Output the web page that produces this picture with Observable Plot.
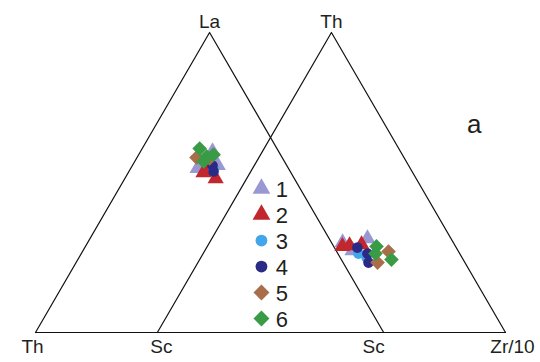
<!DOCTYPE html>
<html><head><meta charset="utf-8">
<script src="https://cdn.jsdelivr.net/npm/d3@7"></script>
<script src="https://cdn.jsdelivr.net/npm/@observablehq/plot@0.6"></script>
<style>body{margin:0;background:#fff;} svg{display:block;}</style>
</head><body><div id="chart"></div>
<script>
// Series definitions
const groups = ["1","2","3","4","5","6"];
const groupColors = ["#9a98d2","#c1272d","#43a6ea","#2b2a86","#a86e4a","#3a9b46"];
const groupSymbols = ["triangle","triangle","circle","circle","diamond2","diamond2"];

// Left diagram: Th – La – Sc (percent)
const leftGroup = ["1","1","1","2","2","2","3","4","4","5","5","6","6","6","6"];
const leftTh    = [19.0,26.1,19.8,25.1,22.6,23.1,21.5,21.3,22.0,24.6,21.0,22.2,23.2,19.2,21.5];
const leftLa    = [60.3,54.7,55.7,53.3,51.3,55.0,54.7,55.7,53.7,58.3,58.0,61.3,57.0,59.3,58.7];
const leftSc    = [20.7,19.2,24.5,21.6,26.1,21.9,23.8,23.0,24.3,17.1,21.0,16.5,19.8,21.5,19.8];

// Right diagram: Sc – Th – Zr/10 (percent)
const rightGroup = ["1","1","1","2","2","2","3","3","4","4","4","5","5","6","6","6"];
const rightSc    = [31.8,24.0,30.3,32.5,30.3,26.7,29.1,27.4,28.4,26.5,27.7,20.1,25.1,22.7,24.2,20.6];
const rightTh    = [30.0,31.3,27.3,28.7,29.0,29.3,26.3,25.0,28.3,26.3,23.3,27.0,23.3,28.7,26.3,24.3];
const rightZr    = [38.2,44.7,42.4,38.8,40.7,44.0,44.6,47.6,43.3,47.2,49.0,52.9,51.6,48.6,49.5,55.1];

const leftVertexLabels  = ["Th","La","Sc"];
const rightVertexLabels = ["Sc","Th","Zr/10"];
const panelLabel = "a";

// ---- geometry helpers ----
const H = Math.sqrt(3) / 2;
const SHIFT = 0.35; // horizontal shift of the right triangle (layout)
const projL = (th, la, sc) => ({x: (la * 0.5 + sc) / 100, y: la * H / 100});
const projR = (sc, th, zr) => ({x: SHIFT + (th * 0.5 + zr) / 100, y: th * H / 100});

const leftPts = leftGroup.map((g, i) => ({g, ...projL(leftTh[i], leftLa[i], leftSc[i])}));
const rightPts = rightGroup.map((g, i) => ({g, ...projR(rightSc[i], rightTh[i], rightZr[i])}));
const pts = [...leftPts, ...rightPts];

const leftTri = [projL(100,0,0), projL(0,100,0), projL(0,0,100), projL(100,0,0)];
const rightTri = [projR(100,0,0), projR(0,100,0), projR(0,0,100), projR(100,0,0)];

const col = g => groupColors[groups.indexOf(g)];
const sym = g => groupSymbols[groups.indexOf(g)];
const rad = g => sym(g) === "diamond2" ? 6.6 : (sym(g) === "circle" ? 5.3 : 6);

// legend layout (data units)
const legX = 0.649, legTX = 0.69, legY0 = 0.4157, legStep = 0.0751;
const legend = groups.map((g, i) => ({g, x: legX, tx: legTX, y: legY0 - i * legStep}));

const font = "'Liberation Sans', Arial, Helvetica, sans-serif";
const ink = "#231f20";

const marks = [
  Plot.line(leftTri, {x: "x", y: "y", stroke: "#111", strokeWidth: 1.2}),
  Plot.line(rightTri, {x: "x", y: "y", stroke: "#111", strokeWidth: 1.2}),
];
// points drawn group by group
groups.forEach(g => {
  marks.push(Plot.dot(pts.filter(d => d.g === g), {x: "x", y: "y", symbol: () => sym(g), r: rad(g), fill: col(g), stroke: "none"}));
});
// legend
groups.forEach(g => {
  marks.push(Plot.dot(legend.filter(d => d.g === g), {x: "x", y: "y", symbol: () => sym(g), r: rad(g) + 0.6, fill: col(g), stroke: "none"}));
});
marks.push(Plot.text(legend, {x: "tx", y: "y", text: "g", textAnchor: "start", fontSize: 22, fill: ink, fontFamily: font, dy: 1}));

// vertex labels
const L = leftTri, R = rightTri;
const fs = 19;
marks.push(Plot.text([L[1]], {x: "x", y: "y", text: () => leftVertexLabels[1], fontSize: fs, fill: ink, fontFamily: font, dy: -5, lineAnchor: "bottom"}));
marks.push(Plot.text([R[1]], {x: "x", y: "y", text: () => rightVertexLabels[1], fontSize: fs, fill: ink, fontFamily: font, dy: -5, lineAnchor: "bottom"}));
marks.push(Plot.text([L[0]], {x: "x", y: "y", text: () => leftVertexLabels[0], fontSize: fs, fill: ink, fontFamily: font, dy: 7, dx: -3, lineAnchor: "top"}));
marks.push(Plot.text([R[0]], {x: "x", y: "y", text: () => rightVertexLabels[0], fontSize: fs, fill: ink, fontFamily: font, dy: 7, dx: 4, lineAnchor: "top"}));
marks.push(Plot.text([L[2]], {x: "x", y: "y", text: () => leftVertexLabels[2], fontSize: fs, fill: ink, fontFamily: font, dy: 7, dx: -10, lineAnchor: "top"}));
marks.push(Plot.text([R[2]], {x: "x", y: "y", text: () => rightVertexLabels[2], fontSize: fs, fill: ink, fontFamily: font, dy: 7, dx: 7, lineAnchor: "top"}));
// panel label
marks.push(Plot.text([panelLabel], {frameAnchor: "top-right", text: d => d, fontSize: 26, fill: ink, fontFamily: font, dx: -24, dy: 82, lineAnchor: "top"}));

const chart = Plot.plot({
  width: 540,
  height: 362,
  marginLeft: 35,
  marginRight: 35,
  marginTop: 32,
  marginBottom: 30,
  x: {domain: [0, 1 + SHIFT], axis: null},
  y: {domain: [0, H], axis: null},
  style: {background: "#fff", overflow: "visible"},
  marks
});
document.getElementById("chart").appendChild(chart);
</script></body></html>
